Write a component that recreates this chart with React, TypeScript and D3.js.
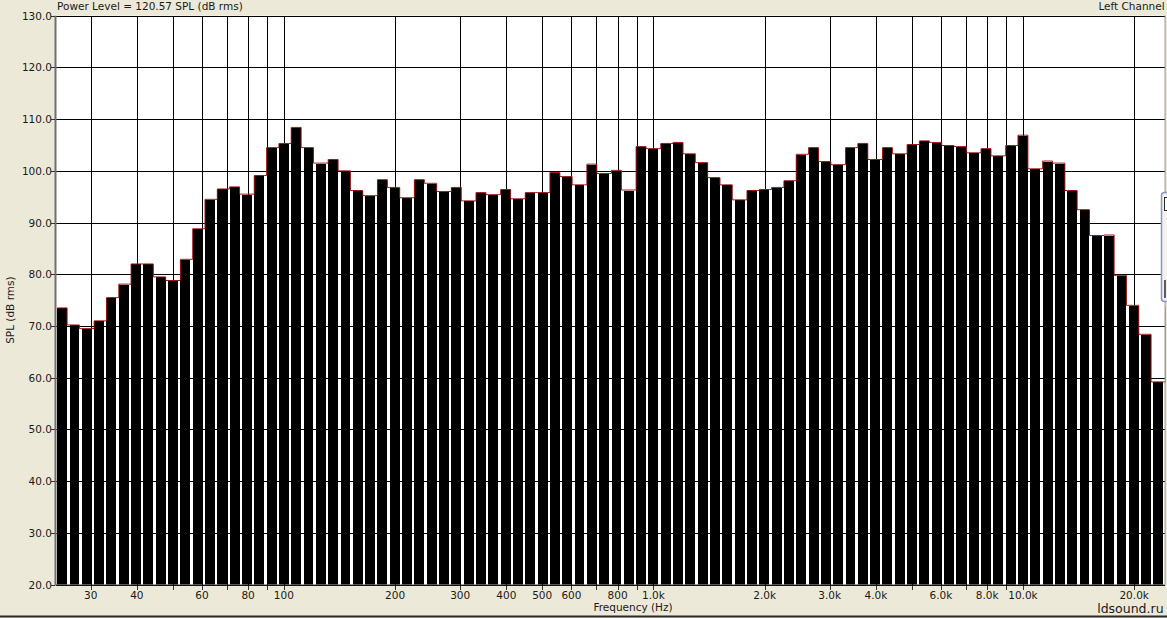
import React from 'react';
import * as d3 from 'd3';

const W = 1167;
const H = 618;

// RTA bands, 30 per decade: band k is centred on 10^(k/30) Hz, first one ~25 Hz
const firstBand = 42;

// SPL readings (dB rms), grouped by decade
const splLow = [73.4, 70.1, 69.4, 70.9, 75.4, 78.0, 81.9, 81.9, 79.4, 78.7, 82.8, 88.7, 94.4, 96.4, 96.8, 95.4, 99.0, 104.4]; // 25 - 79 Hz
const splMid = [105.2, 108.3, 104.4, 101.4, 102.1, 99.9, 96.1, 95.1, 98.2, 96.7, 94.7, 98.2, 97.5, 95.9, 96.7, 94.1, 95.7, 95.3, 96.3, 94.5, 95.7, 95.7, 99.6, 98.8, 97.2, 101.2, 99.4, 100.0, 96.2, 104.6]; // 100 - 794 Hz
const splHigh = [104.2, 105.2, 105.4, 103.2, 101.5, 98.6, 97.2, 94.3, 96.1, 96.3, 96.7, 98.0, 103.1, 104.4, 101.7, 101.1, 104.4, 105.2, 102.1, 104.4, 103.2, 105.0, 105.7, 105.4, 104.8, 104.6, 103.4, 104.2, 102.8, 104.8]; // 1k - 7.9k
const splTop = [106.8, 100.3, 101.8, 101.4, 96.1, 92.4, 87.4, 87.5, 79.7, 73.9, 68.3, 59.1, 73.5]; // 10k - 25k (last band sits past the frame)

const visibleBands = 90;

const freqTicks = [30, 40, 60, 80, 100, 200, 300, 400, 500, 600, 800, 1000, 2000, 3000, 4000, 6000, 8000, 10000, 20000];
const freqTickLabels = ['30', '40', '60', '80', '100', '200', '300', '400', '500', '600', '800', '1.0k', '2.0k', '3.0k', '4.0k', '6.0k', '8.0k', '10.0k', '20.0k'];
const splTicks = [20, 30, 40, 50, 60, 70, 80, 90, 100, 110, 120, 130];

const titleText = 'Power Level = 120.57 SPL (dB rms)';
const channelText = 'Left Channel';

const font = '"DejaVu Sans", Verdana, sans-serif';

const App: React.FC = () => {
  const left = 56;
  const right = 1164.6;
  const top = 15.7;
  const bottom = 584.6;

  const spl = [...splLow, ...splMid, ...splHigh, ...splTop];
  const bands = spl.map((v, i) => {
    const k = firstBand + i;
    return {
      lo: Math.pow(10, (k - 0.5) / 30),
      hi: Math.pow(10, (k + 0.5) / 30),
      v,
    };
  });

  const x = d3.scaleLog()
    .domain([bands[0].lo, bands[visibleBands - 1].hi])
    .range([left, right]);
  const y = d3.scaleLinear().domain([20, 130]).range([bottom, top]);

  const gridFreqs = x.ticks().filter(f => f >= 30);
  const snap = (p: number) => Math.round(p) + 0.5;

  const rects = bands.map(b => {
    const x0 = x(b.lo) + 1.2;
    const x1 = x(b.hi) - 1.2;
    return { x0, x1, yt: y(b.v) };
  });

  // red outline following the bar tops, vertical step on the taller bar's side
  const pts: [number, number][] = [];
  rects.forEach((r, i) => {
    pts.push([r.x0, r.yt - 0.5], [r.x1, r.yt - 0.5]);
    const n = rects[i + 1];
    if (n) {
      if (n.yt < r.yt) pts.push([n.x0, r.yt - 0.5]);
      else pts.push([r.x1, n.yt - 0.5]);
    }
  });
  const envelope = d3.line()(pts) || '';

  return (
    <svg width={W} height={H} style={{ position: 'absolute', left: 0, top: 0, display: 'block' }}>
      <defs>
        <clipPath id="plotClip">
          <rect x={left} y={top - 1} width={right - left + 1} height={bottom - top + 1} />
        </clipPath>
      </defs>
      <rect x={0} y={0} width={W} height={H} fill="#ECE9D8" />
      <rect x={left} y={top} width={right - left} height={bottom - top} fill="#ffffff" />

      {/* grid */}
      <g shapeRendering="crispEdges" stroke="#000" strokeWidth={1}>
        {splTicks.map(t => (
          <line key={`h${t}`} x1={left} x2={right} y1={snap(y(t))} y2={snap(y(t))} />
        ))}
        {gridFreqs.map(f => (
          <line key={`v${f}`} x1={snap(x(f))} x2={snap(x(f))} y1={top} y2={bottom} />
        ))}
      </g>

      {/* bars */}
      <g clipPath="url(#plotClip)">
        <g shapeRendering="crispEdges">
          {rects.map((r, i) => (
            <rect key={i} x={r.x0} y={r.yt} width={r.x1 - r.x0} height={bottom - r.yt} fill="#000" />
          ))}
        </g>
        <path d={envelope} fill="none" stroke="#9a1414" strokeWidth={1} />
      </g>

      {/* frame */}
      <line x1={left - 0.5} x2={left - 0.5} y1={top} y2={bottom + 1} stroke="#6f6f6f" strokeWidth={2} />
      <line x1={right + 0.5} x2={right + 0.5} y1={top} y2={bottom} stroke="#9a9a9a" strokeWidth={1} />
      <line x1={left} x2={right} y1={bottom + 0.5} y2={bottom + 0.5} stroke="#222" strokeWidth={1} />

      {/* x axis */}
      <g shapeRendering="crispEdges" stroke="#333">
        {gridFreqs.map(f => (
          <line key={`xt${f}`} x1={snap(x(f))} x2={snap(x(f))} y1={bottom + 1} y2={bottom + 5} />
        ))}
      </g>
      <g fontFamily={font} fontSize={10.5} fill="#1a1a1a" textAnchor="middle">
        {freqTicks.map((f, i) => (
          <text key={`xl${f}`} x={x(f)} y={bottom + 14}>{freqTickLabels[i]}</text>
        ))}
      </g>
      <text x={633} y={611} fontFamily={font} fontSize={10.5} fill="#1a1a1a" textAnchor="middle">Frequency (Hz)</text>
      <text x={right - 1} y={612.5} fontFamily={font} fontSize={12.5} fill="#1a1a1a" textAnchor="end">ldsound.ru</text>

      {/* y axis */}
      <g shapeRendering="crispEdges" stroke="#333">
        {splTicks.map(t => (
          <line key={`yt${t}`} x1={left - 5} x2={left - 1} y1={snap(y(t))} y2={snap(y(t))} />
        ))}
      </g>
      <g fontFamily={font} fontSize={10.5} fill="#1a1a1a" textAnchor="end">
        {splTicks.map(t => (
          <text key={`yl${t}`} x={left - 4} y={y(t) + 4}>{d3.format('.1f')(t)}</text>
        ))}
      </g>
      <text
        transform={`translate(14,${(top + bottom) / 2 + 10}) rotate(-90)`}
        fontFamily={font}
        fontSize={10.5}
        fill="#1a1a1a"
        textAnchor="middle"
      >
        SPL (dB rms)
      </text>

      {/* header */}
      <text x={left + 1} y={9.5} fontFamily={font} fontSize={10.5} fill="#1a1a1a">{titleText}</text>
      <text x={right} y={9.5} fontFamily={font} fontSize={10.5} fill="#1a1a1a" textAnchor="end">{channelText}</text>

      {/* edge of another window peeking in on the right */}
      <rect x={1161.5} y={192.5} width={10} height={109} rx={3} fill="#f3f2ec" stroke="#8797c4" strokeWidth={1.5} />
      <rect x={1164.5} y={197.5} width={6} height={13} fill="#ffffff" stroke="#2a2a2a" strokeWidth={1} />
      <line x1={1165} x2={1165} y1={280} y2={298} stroke="#2a2a2a" strokeWidth={1.5} />

      <line x1={0} x2={W} y1={616.5} y2={616.5} stroke="#2b2b2b" strokeWidth={2} />
    </svg>
  );
};

export default App;
